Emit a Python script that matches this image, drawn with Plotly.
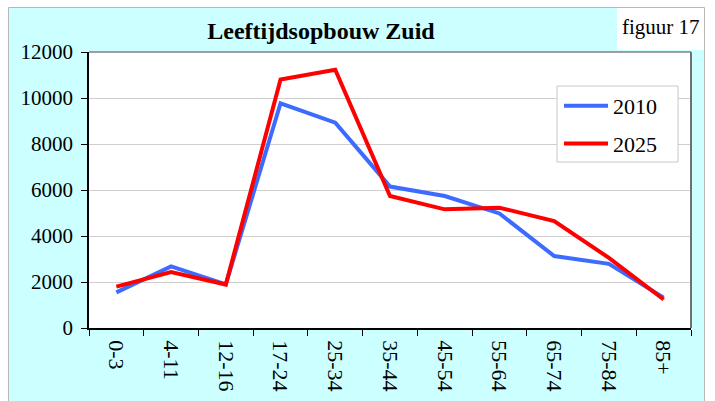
import plotly.graph_objects as go

categories = ["0-3", "4-11", "12-16", "17-24", "25-34", "35-44", "45-54", "55-64", "65-74", "75-84", "85+"]
values_2010 = [1550, 2680, 1900, 9770, 8930, 6150, 5740, 4980, 3130, 2790, 1320]
values_2025 = [1800, 2430, 1890, 10800, 11230, 5740, 5160, 5230, 4650, 3050, 1240]
y_ticks = [0, 2000, 4000, 6000, 8000, 10000, 12000]

W, H = 715, 401
L, R, T, B = 89, 24, 52, 73
PW, PH = W - L - R, H - T - B


def px(x):
    return (x - L) / PW


def py(y):
    return (H - B - y) / PH


FONT = "Liberation Serif"

fig = go.Figure()
fig.add_trace(go.Scatter(x=categories, y=values_2010, mode="lines", name="2010",
                         line=dict(color="#3D6BFF", width=4), legendgroup="a"))
fig.add_trace(go.Scatter(x=categories, y=values_2025, mode="lines", name="2025",
                         line=dict(color="#FF0000", width=4), legendgroup="b"))

shapes = [
    # outer cyan frame
    dict(type="rect", xref="paper", yref="paper", x0=px(8.5), x1=px(704.5), y0=py(430), y1=py(7.5),
         fillcolor="#CCFFFF", line=dict(color="#B8B8B8", width=1), layer="below"),
    # white box for figure number
    dict(type="rect", xref="paper", yref="paper", x0=px(617), x1=px(704), y0=py(50), y1=py(8),
         fillcolor="white", line=dict(width=0), layer="below"),
    # plot area background
    dict(type="rect", xref="paper", yref="paper", x0=0, x1=1, y0=0, y1=1,
         fillcolor="white", line=dict(width=0), layer="below"),
    # top border of plot area
    dict(type="line", xref="paper", yref="paper", x0=0, x1=1, y0=1, y1=1,
         line=dict(color="#808080", width=1.5), layer="above"),
    # right border of plot area
    dict(type="line", xref="paper", yref="paper", x0=px(691), x1=px(691), y0=0, y1=1,
         line=dict(color="#707070", width=2), layer="above"),
    # legend box
    dict(type="rect", xref="paper", yref="paper", x0=px(557), x1=px(678), y0=py(162), y1=py(86),
         fillcolor="white", line=dict(color="#C8C8C8", width=1), layer="above"),
]

fig.update_layout(
    width=W, height=H,
    margin=dict(l=L, r=R, t=T, b=B, pad=0, autoexpand=False),
    paper_bgcolor="white",
    plot_bgcolor="rgba(0,0,0,0)",
    font=dict(family=FONT, color="black", size=21),
    title=dict(text="<b>Leeftijdsopbouw Zuid</b>", x=px(321), xref="paper", xanchor="center",
               y=1 - 31 / H, yref="container", yanchor="middle",
               font=dict(family=FONT, size=24, color="black")),
    shapes=shapes,
    annotations=[dict(text="figuur 17", xref="paper", yref="paper", x=px(661), y=py(27),
                      xanchor="center", yanchor="middle", showarrow=False,
                      font=dict(family=FONT, size=21, color="black"))],
    legend=dict(x=px(559), y=py(85), xanchor="left", yanchor="top",
                bgcolor="rgba(0,0,0,0)", borderwidth=0, itemwidth=44,
                font=dict(family=FONT, size=22, color="black"),
                traceorder="grouped", tracegroupgap=6),
    showlegend=True,
)

fig.update_xaxes(
    type="category", range=[-0.5, len(categories) - 0.5], automargin=False,
    showgrid=False, showline=True, linecolor="black", linewidth=1.5,
    ticks="outside", tickson="boundaries", ticklen=6, tickcolor="black", tickwidth=1,
    tickangle=90, tickfont=dict(family=FONT, size=22, color="black"), ticklabelstandoff=6,
    zeroline=False, fixedrange=True,
)
fig.update_yaxes(
    range=[0, 12000], tickvals=y_ticks, ticktext=[str(v) for v in y_ticks], automargin=False,
    showgrid=True, gridcolor="#CFCFCF", gridwidth=1,
    showline=True, linecolor="black", linewidth=1.5,
    ticks="outside", ticklen=6, tickcolor="black", tickwidth=1,
    tickfont=dict(family=FONT, size=21, color="black"), ticklabelstandoff=4,
    zeroline=False, fixedrange=True,
)

fig.write_html("out.html", config={"displayModeBar": False},
               post_script="document.body.style.margin='0';")
